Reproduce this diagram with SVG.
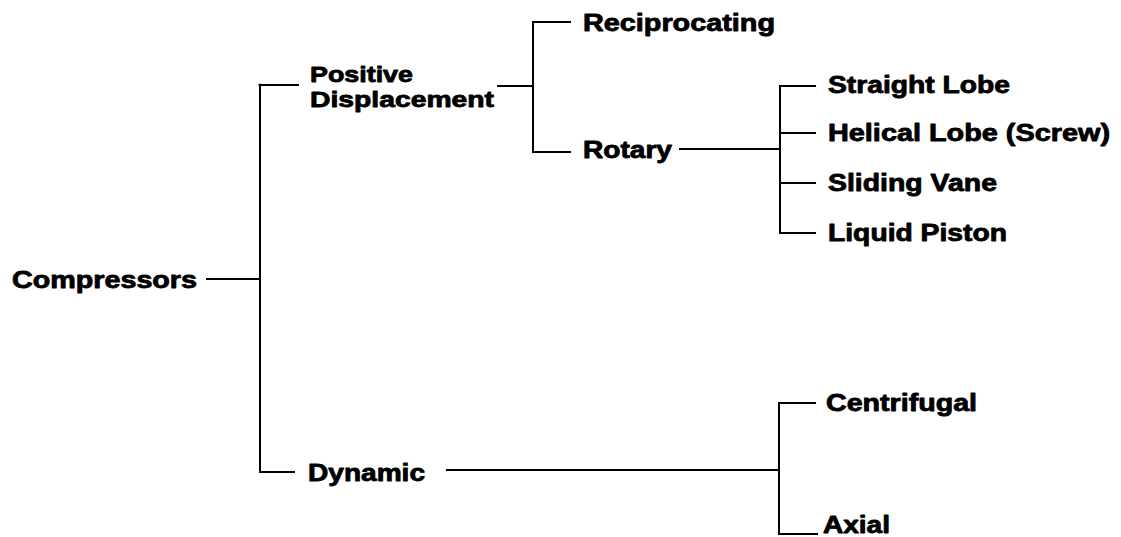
<svg xmlns="http://www.w3.org/2000/svg" width="1121" height="537" viewBox="0 0 1121 537">
  <style>
    .lbl { font-family: "Liberation Sans", Arial, Helvetica, sans-serif; font-weight: bold; font-size: 23px; fill: #000; stroke: #000; stroke-width: 0.8; stroke-linejoin: round; }
    .two { font-size: 22px; }
    .wire { fill: none; stroke: #000; stroke-width: 2; stroke-linecap: square; }
  </style>
  <rect width="1121" height="537" fill="#fff"/>

  <!-- tree connectors -->
  <g id="connectors">
    <!-- Compressors to its two branches -->
    <path class="wire" d="M207,279 H260"/>
    <path class="wire" d="M298,85 H260 V472 H294"/>
    <circle cx="260" cy="85" r="1.6" fill="#000"/>
    <!-- Positive Displacement split -->
    <path class="wire" d="M498,86 H533"/>
    <path class="wire" d="M570,22 H533 V152 H570"/>
    <!-- Rotary split -->
    <path class="wire" d="M680,149 H780"/>
    <path class="wire" d="M815,86 H780 V233 H815"/>
    <path class="wire" d="M780,133 H815"/>
    <path class="wire" d="M780,183 H815"/>
    <!-- Dynamic split -->
    <path class="wire" d="M447,470 H779"/>
    <path class="wire" d="M815,403 H779 V534 H817"/>
  </g>

  <g id="compressors"><text class="lbl" x="12" y="288" textLength="185" lengthAdjust="spacingAndGlyphs">Compressors</text></g>
  <g id="positive-displacement">
    <text class="lbl two" x="310" y="82" textLength="103" lengthAdjust="spacingAndGlyphs">Positive</text>
    <text class="lbl two" x="310" y="107" textLength="184" lengthAdjust="spacingAndGlyphs">Displacement</text>
  </g>
  <g id="dynamic"><text class="lbl" x="308" y="481" textLength="117" lengthAdjust="spacingAndGlyphs">Dynamic</text></g>
  <g id="reciprocating"><text class="lbl" x="583" y="31" textLength="192" lengthAdjust="spacingAndGlyphs">Reciprocating</text></g>
  <g id="rotary"><text class="lbl" x="583" y="158" textLength="89" lengthAdjust="spacingAndGlyphs">Rotary</text></g>
  <g id="straight-lobe"><text class="lbl" x="828" y="93" textLength="182" lengthAdjust="spacingAndGlyphs">Straight Lobe</text></g>
  <g id="helical-lobe"><text class="lbl" x="828" y="141" textLength="282" lengthAdjust="spacingAndGlyphs">Helical Lobe (Screw)</text></g>
  <g id="sliding-vane"><text class="lbl" x="828" y="191" textLength="169" lengthAdjust="spacingAndGlyphs">Sliding Vane</text></g>
  <g id="liquid-piston"><text class="lbl" x="828" y="241" textLength="179" lengthAdjust="spacingAndGlyphs">Liquid Piston</text></g>
  <g id="centrifugal"><text class="lbl" x="826" y="411" textLength="151" lengthAdjust="spacingAndGlyphs">Centrifugal</text></g>
  <g id="axial"><text class="lbl" x="823" y="533" textLength="67" lengthAdjust="spacingAndGlyphs">Axial</text></g>
</svg>
